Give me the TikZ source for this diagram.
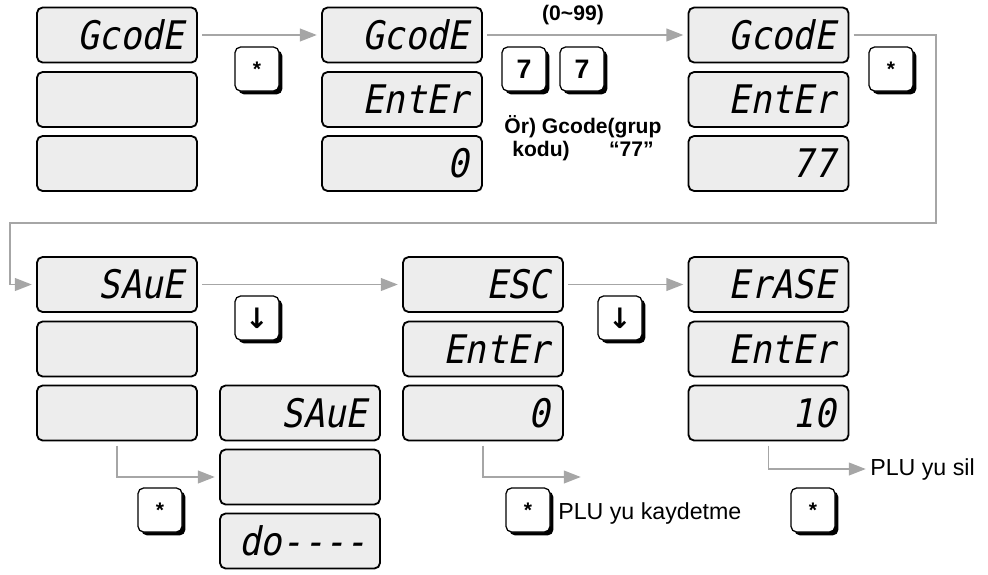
\documentclass[tikz,border=0pt]{standalone}
\usepackage{fontspec}
\setmainfont{Liberation Sans}
\newfontfamily\lcdfont[FakeSlant=0.2, FakeStretch=0.9]{DejaVu Sans Mono}
\newfontfamily\keyfont{DejaVu Sans}
\usetikzlibrary{arrows.meta, shadows}

\begin{document}
\begin{tikzpicture}[
  x=0.025cm, y=-0.025cm,
  lcd/.style={rectangle, draw, line width=1.3pt, rounded corners=4pt, fill=gray!14,
              minimum height=1.375cm, inner xsep=0.325cm, text width=3.35cm,
              align=right, font=\lcdfont\fontsize{28}{28}\selectfont},
  key/.style={rectangle, draw, line width=0.9pt, rounded corners=4pt, fill=white,
              minimum size=1.1cm, inner sep=0pt, font=\bfseries\fontsize{15}{15}\selectfont,
              drop shadow={shadow xshift=2.4pt, shadow yshift=-2.4pt, fill=black, opacity=1}},
  flow/.style={-{Triangle[length=12pt, width=9pt]}, draw=gray!70, line width=1.3pt,
               shorten <=3pt, shorten >=3pt},
  note/.style={inner sep=0pt, font=\fontsize{16.5}{18}\selectfont},
  noteb/.style={inner sep=0pt, font=\bfseries\fontsize{15}{16.5}\selectfont},
]
\useasboundingbox (0,0) rectangle (988,574);

% ---- Ekranlar: ust sira ----
\node[lcd] (s1a) at (117,35)    {GcodE};
\node[lcd] (s1b) at (117,99.5)  {};
\node[lcd] (s1c) at (117,163.5) {};

\node[lcd] (s2a) at (402,35)    {GcodE};
\node[lcd] (s2b) at (402,99.5)  {EntEr};
\node[lcd] (s2c) at (402,163.5) {0};

\node[lcd] (s3a) at (768.5,35)    {GcodE};
\node[lcd] (s3b) at (768.5,99.5)  {EntEr};
\node[lcd] (s3c) at (768.5,163.5) {77};

% ---- Ekranlar: alt sira ----
\node[lcd] (s4a) at (117,284.5) {SAuE};
\node[lcd] (s4b) at (117,349)   {};
\node[lcd] (s4c) at (117,413)   {};

\node[lcd] (s5a) at (483,284.5) {ESC};
\node[lcd] (s5b) at (483,349)   {EntEr};
\node[lcd] (s5c) at (483,413)   {0};

\node[lcd] (s6a) at (768.5,284.5) {ErASE};
\node[lcd] (s6b) at (768.5,349)   {EntEr};
\node[lcd] (s6c) at (768.5,413)   {10};

\node[lcd] (s7a) at (300,413) {SAuE};
\node[lcd] (s7b) at (300,477) {};
\node[lcd] (s7c) at (300,541) {do----};

% ---- Tuslar ----
\node[key] (k1)  at (257,69) {*};
\node[key, font=\bfseries\fontsize{19}{19}\selectfont] (k7a) at (524,69) {7};
\node[key, font=\bfseries\fontsize{19}{19}\selectfont] (k7b) at (582,69) {7};
\node[key] (k3)  at (891,69) {*};
\node[key, font=\keyfont\bfseries\fontsize{20}{20}\selectfont] (kd1) at (257,318) {↓};
\node[key, font=\keyfont\bfseries\fontsize{20}{20}\selectfont] (kd2) at (620,318) {↓};
\node[key] (ks1) at (160,510) {*};
\node[key] (ks2) at (528,510) {*};
\node[key] (ks3) at (813,510) {*};

% ---- Aciklamalar ----
\node[noteb] (range) at (573,15) {(0\textasciitilde99)};
\node[noteb, align=center] (example) at (583,138) {Ör) Gcode(grup\\kodu)\hspace{28pt}“77”};
\node[note, anchor=west] (keep) at (558,513) {PLU yu kaydetme};
\node[note, anchor=west] (sil)  at (870,469) {PLU yu sil};

% ---- Akis oklari ----
\coordinate (wrapR) at (936,223);
\coordinate (wrapL) at (10,223);
\coordinate (keepEnd) at (585,477);

\draw[flow] (s1a.east) -- (s2a.west);
\draw[flow] (s2a.east) -- (s3a.west);
\draw[flow] (s3a.east) -| (wrapR) -- (wrapL) |- (s4a.west);
\draw[flow] (s4a.east) -- (s5a.west);
\draw[flow] (s5a.east) -- (s6a.west);
\draw[flow] (s4c.south) |- (s7b.west);
\draw[flow] (s5c.south) |- (keepEnd);
\draw[flow] (s6c.south) |- (sil.west);

\end{tikzpicture}
\end{document}
